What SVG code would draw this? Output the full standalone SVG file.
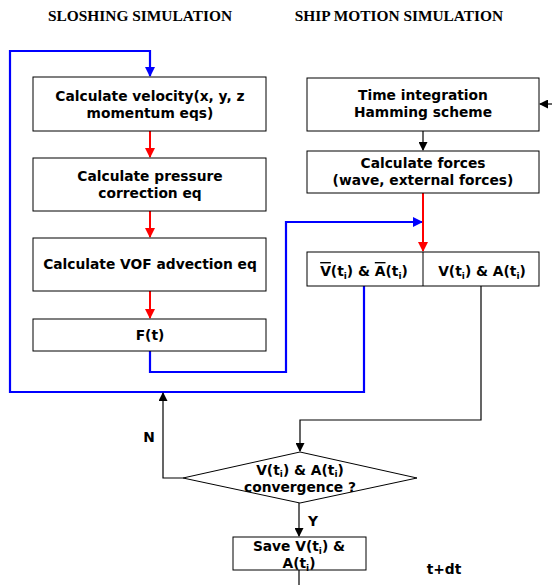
<svg xmlns="http://www.w3.org/2000/svg" width="552" height="585" viewBox="0 0 552 585">
<style>
.box{fill:#fff;stroke:#000;stroke-width:1}
.t{font-family:"DejaVu Sans",Verdana,sans-serif;font-weight:bold;font-size:13.8px;text-anchor:middle;fill:#000}
.h{font-family:"Liberation Serif","Times New Roman",serif;font-weight:bold;font-size:15.4px;text-anchor:middle;fill:#000}
.sub{font-size:9px}
.blue{fill:none;stroke:#0000ff;stroke-width:2.2}
.red{fill:none;stroke:#ff0000;stroke-width:2}
.blk{fill:none;stroke:#000;stroke-width:1.2}
</style>
<defs>
<marker id="ab" markerWidth="10" markerHeight="10" refX="9" refY="5" orient="auto" markerUnits="userSpaceOnUse"><path d="M0,0 L10,5 L0,10 z" fill="#0000ff"/></marker>
<marker id="ar" markerWidth="10" markerHeight="10" refX="9" refY="5" orient="auto" markerUnits="userSpaceOnUse"><path d="M0,0 L10,5 L0,10 z" fill="#ff0000"/></marker>
<marker id="ak" markerWidth="9" markerHeight="9" refX="8" refY="4.5" orient="auto" markerUnits="userSpaceOnUse"><path d="M0,0 L9,4.5 L0,9 z" fill="#000"/></marker>
</defs>
<rect width="552" height="585" fill="#fff"/>
<g id="titles">
<text class="h" x="140" y="21">SLOSHING SIMULATION</text>
<text class="h" x="399" y="21">SHIP MOTION SIMULATION</text>
</g>
<g id="connectors">
<path class="blue" d="M364,286 V392 H10 V51 H150 V76" marker-end="url(#ab)"/>
<path class="blue" d="M150,351 V372 H286 V222 H422" marker-end="url(#ab)"/>
<path class="red" d="M150,131 V157" marker-end="url(#ar)"/>
<path class="red" d="M150,211 V237" marker-end="url(#ar)"/>
<path class="red" d="M150,291 V318" marker-end="url(#ar)"/>
<path class="red" d="M423,193 V251" marker-end="url(#ar)"/>
<path class="blk" d="M552,104 H540" marker-end="url(#ak)"/>
<path class="blk" d="M423,131 V150" marker-end="url(#ak)"/>
<path class="blk" d="M481,286 V420 H300 V451" marker-end="url(#ak)"/>
<path class="blk" d="M183,478 H163 V393" marker-end="url(#ak)"/>
<path class="blk" d="M299,503 V536" marker-end="url(#ak)"/>
<path class="blk" d="M299,570 V585"/>
</g>
<g id="velocity">
<rect class="box" x="33" y="77" width="233" height="54"/>
<text class="t" x="150" y="101">Calculate velocity(x, y, z</text>
<text class="t" x="150" y="118">momentum eqs)</text>
</g>
<g id="pressure">
<rect class="box" x="33" y="158" width="233" height="53"/>
<text class="t" x="150" y="181">Calculate pressure</text>
<text class="t" x="150" y="198">correction eq</text>
</g>
<g id="vof">
<rect class="box" x="33" y="238" width="233" height="53"/>
<text class="t" x="150" y="269">Calculate VOF advection eq</text>
</g>
<g id="ft">
<rect class="box" x="33" y="319" width="233" height="32"/>
<text class="t" x="150" y="340">F(t)</text>
</g>
<g id="timeint">
<rect class="box" x="307" y="78" width="232" height="53"/>
<text class="t" x="423" y="100">Time integration</text>
<text class="t" x="423" y="117">Hamming scheme</text>
</g>
<g id="forces">
<rect class="box" x="307" y="151" width="232" height="42"/>
<text class="t" x="423" y="168">Calculate forces</text>
<text class="t" x="423" y="185">(wave, external forces)</text>
</g>
<g id="va">
<rect class="box" x="307" y="252" width="232" height="34"/>
<line x1="423" y1="252" x2="423" y2="286" stroke="#000" stroke-width="1"/>
<text class="t" x="364" y="276"><tspan text-decoration="overline">V</tspan>(t<tspan class="sub" dy="3">i</tspan><tspan dy="-3">) &amp; </tspan><tspan text-decoration="overline">A</tspan>(t<tspan class="sub" dy="3">i</tspan><tspan dy="-3">)</tspan></text>
<text class="t" x="482" y="276">V(t<tspan class="sub" dy="3">i</tspan><tspan dy="-3">) &amp; A(t</tspan><tspan class="sub" dy="3">i</tspan><tspan dy="-3">)</tspan></text>
</g>
<g id="decision">
<polygon class="box" points="300,452 417,478 300,503 183,478"/>
<text class="t" x="300" y="475">V(t<tspan class="sub" dy="2">i</tspan><tspan dy="-2">) &amp; A(t</tspan><tspan class="sub" dy="2">i</tspan><tspan dy="-2">)</tspan></text>
<text class="t" x="300" y="492">convergence ?</text>
</g>
<g id="labels">
<text class="t" x="149" y="442">N</text>
<text class="t" x="313" y="526">Y</text>
<text class="t" x="444" y="574">t+dt</text>
</g>
<g id="save">
<rect class="box" x="233" y="537" width="133" height="33"/>
<text class="t" x="299" y="551">Save V(t<tspan class="sub" dy="3">i</tspan><tspan dy="-3">) &amp;</tspan></text>
<text class="t" x="299" y="568">A(t<tspan class="sub" dy="3">i</tspan><tspan dy="-3">)</tspan></text>
</g>
</svg>
